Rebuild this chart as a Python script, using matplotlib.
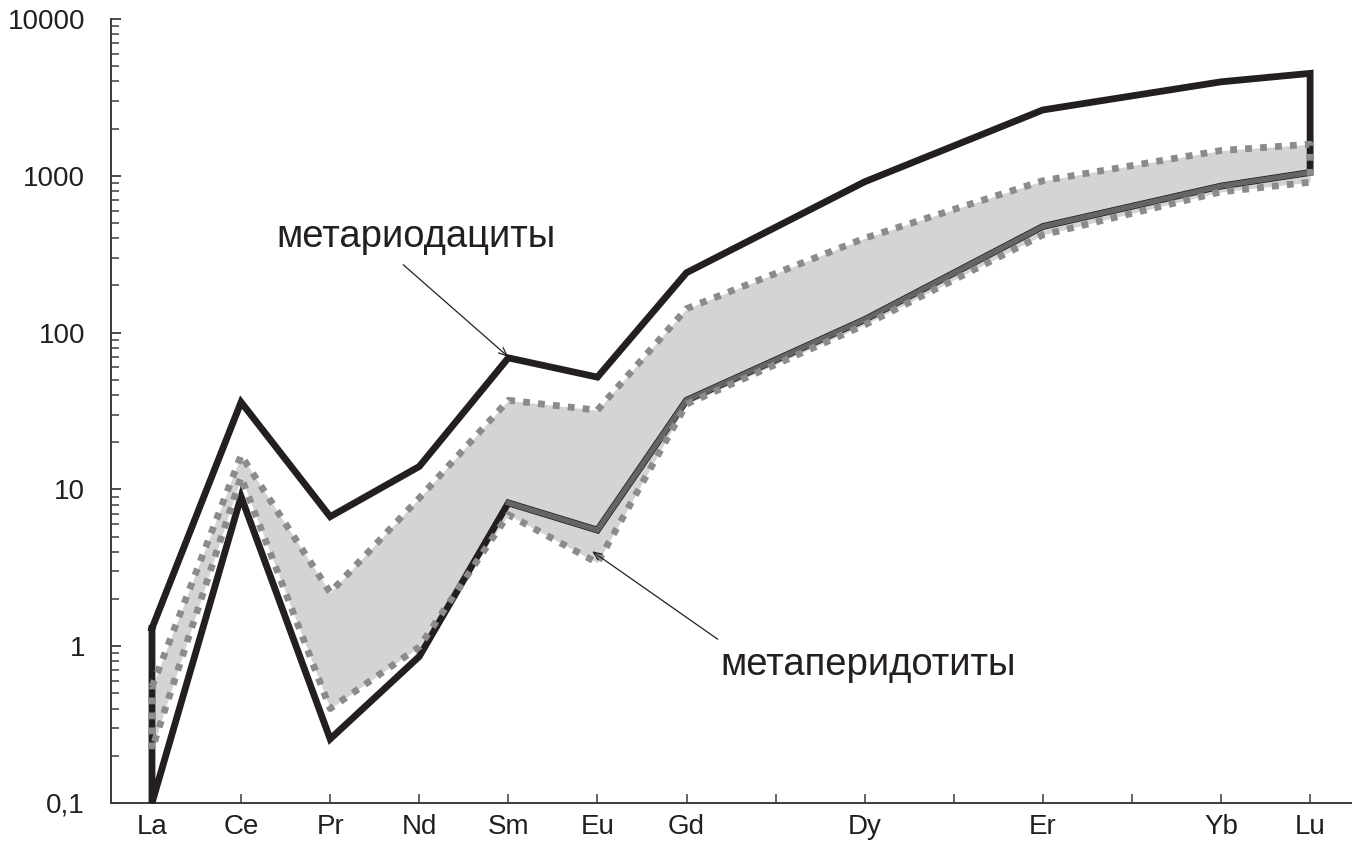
import matplotlib
matplotlib.use('Agg')
import matplotlib.pyplot as plt
from matplotlib.ticker import LogLocator, NullFormatter
import numpy as np

plt.rcParams['font.family'] = ['Liberation Sans', 'DejaVu Sans']

# REE axis: 14 positions, Tb / Ho / Tm ticks are unlabeled
elements = ['La', 'Ce', 'Pr', 'Nd', 'Sm', 'Eu', 'Gd', 'Tb', 'Dy', 'Ho', 'Er', 'Tm', 'Yb', 'Lu']
tick_labels = ['La', 'Ce', 'Pr', 'Nd', 'Sm', 'Eu', 'Gd', '', 'Dy', '', 'Er', '', 'Yb', 'Lu']
data_elements = ['La', 'Ce', 'Pr', 'Nd', 'Sm', 'Eu', 'Gd', 'Dy', 'Er', 'Yb', 'Lu']

# metariodacites (black envelope)
rio_upper = [1.3, 36, 6.7, 14, 69, 52, 241, 916, 2630, 3975, 4500]
rio_lower = [0.1, 9.0, 0.256, 0.86, 8.2, 5.5, 37, 121, 475, 860, 1050]

# metaperidotites (grey field)
per_upper = [0.55, 16.5, 2.2, 8.8, 37, 32, 142, 400, 930, 1450, 1590]
per_lower = [0.22, 12, 0.40, 0.99, 6.9, 3.4, 35, 112, 420, 790, 910]

yticks = [0.1, 1, 10, 100, 1000, 10000]
ytick_labels = ['0,1', '1', '10', '100', '1000', '10000']

black = '#231f20'
dot_grey = '#8c8a8b'
fill_grey = '#d4d4d4'
line_grey = '#666464'
axis_col = '#3c3c3c'

x = np.array([elements.index(e) for e in data_elements])

fig = plt.figure(figsize=(13.52, 8.66), dpi=100)
ax = fig.add_axes([111/1352, 1-803/866, (1352-111)/1352, (803-19)/866])

# grey field of metaperidotites
ax.fill_between(x, per_lower, per_upper, color=fill_grey, lw=0, zorder=1)

# black envelope of metariodacites (closed at La and Lu)
env_x = np.concatenate([x, x[::-1], x[:1]])
env_y = np.concatenate([rio_upper, rio_lower[::-1], rio_upper[:1]])
ax.plot(env_x, env_y, color=black, lw=4.9, solid_joinstyle='miter', zorder=3, clip_on=False)

# grey solid lower line from Sm onward
i_sm = data_elements.index('Sm')
ax.plot(x[i_sm:], rio_lower[i_sm:], color=line_grey, lw=3.8, solid_joinstyle='miter', zorder=4)

# dotted outline of metaperidotites
per_x = np.concatenate([x, x[::-1], x[:1]])
per_y = np.concatenate([per_upper, per_lower[::-1], per_upper[:1]])
ax.plot(per_x, per_y, color=dot_grey, lw=4.9, linestyle=(0, (1.0, 1.2)),
        dash_capstyle='butt', zorder=5)

ax.set_yscale('log')
ax.set_ylim(0.1, 10000)
ax.set_xlim(-0.46, 13.47)

ax.set_yticks(yticks)
ax.set_yticklabels(ytick_labels)
ax.yaxis.set_minor_locator(LogLocator(base=10, subs=np.arange(2, 10)))
ax.yaxis.set_minor_formatter(NullFormatter())
ax.set_xticks(range(len(elements)))
ax.set_xticklabels(tick_labels)

ax.spines['top'].set_visible(False)
ax.spines['right'].set_visible(False)
for s in ['left', 'bottom']:
    ax.spines[s].set_color(axis_col)
    ax.spines[s].set_linewidth(1.4)

ax.tick_params(axis='y', which='major', direction='in', length=7, width=1.3,
               color=axis_col, labelsize=20, labelcolor=black, pad=18.7)
ax.tick_params(axis='y', which='minor', direction='in', length=5.5, width=1.1, color=axis_col)
ax.tick_params(axis='x', which='major', direction='in', length=6.5, width=1.1,
               color=axis_col, labelsize=20, labelcolor=black, pad=7.9)

# labels with arrows
ax.text(1.40, 353, 'метариодациты', fontsize=27.5, color=black, ha='left', va='baseline')
ax.annotate('', xy=(4.0, 70), xytext=(2.82, 271),
            arrowprops=dict(arrowstyle='->,head_length=0.6,head_width=0.25',
                            lw=0.9, color=black, shrinkA=0, shrinkB=0), zorder=6)

ax.text(6.376, 0.653, 'метаперидотиты', fontsize=27.5, color=black, ha='left', va='baseline')
ax.annotate('', xy=(4.94, 4.03), xytext=(6.35, 1.108),
            arrowprops=dict(arrowstyle='->,head_length=0.6,head_width=0.25',
                            lw=0.9, color=black, shrinkA=0, shrinkB=0), zorder=6)

fig.savefig('out.png', dpi=100)
